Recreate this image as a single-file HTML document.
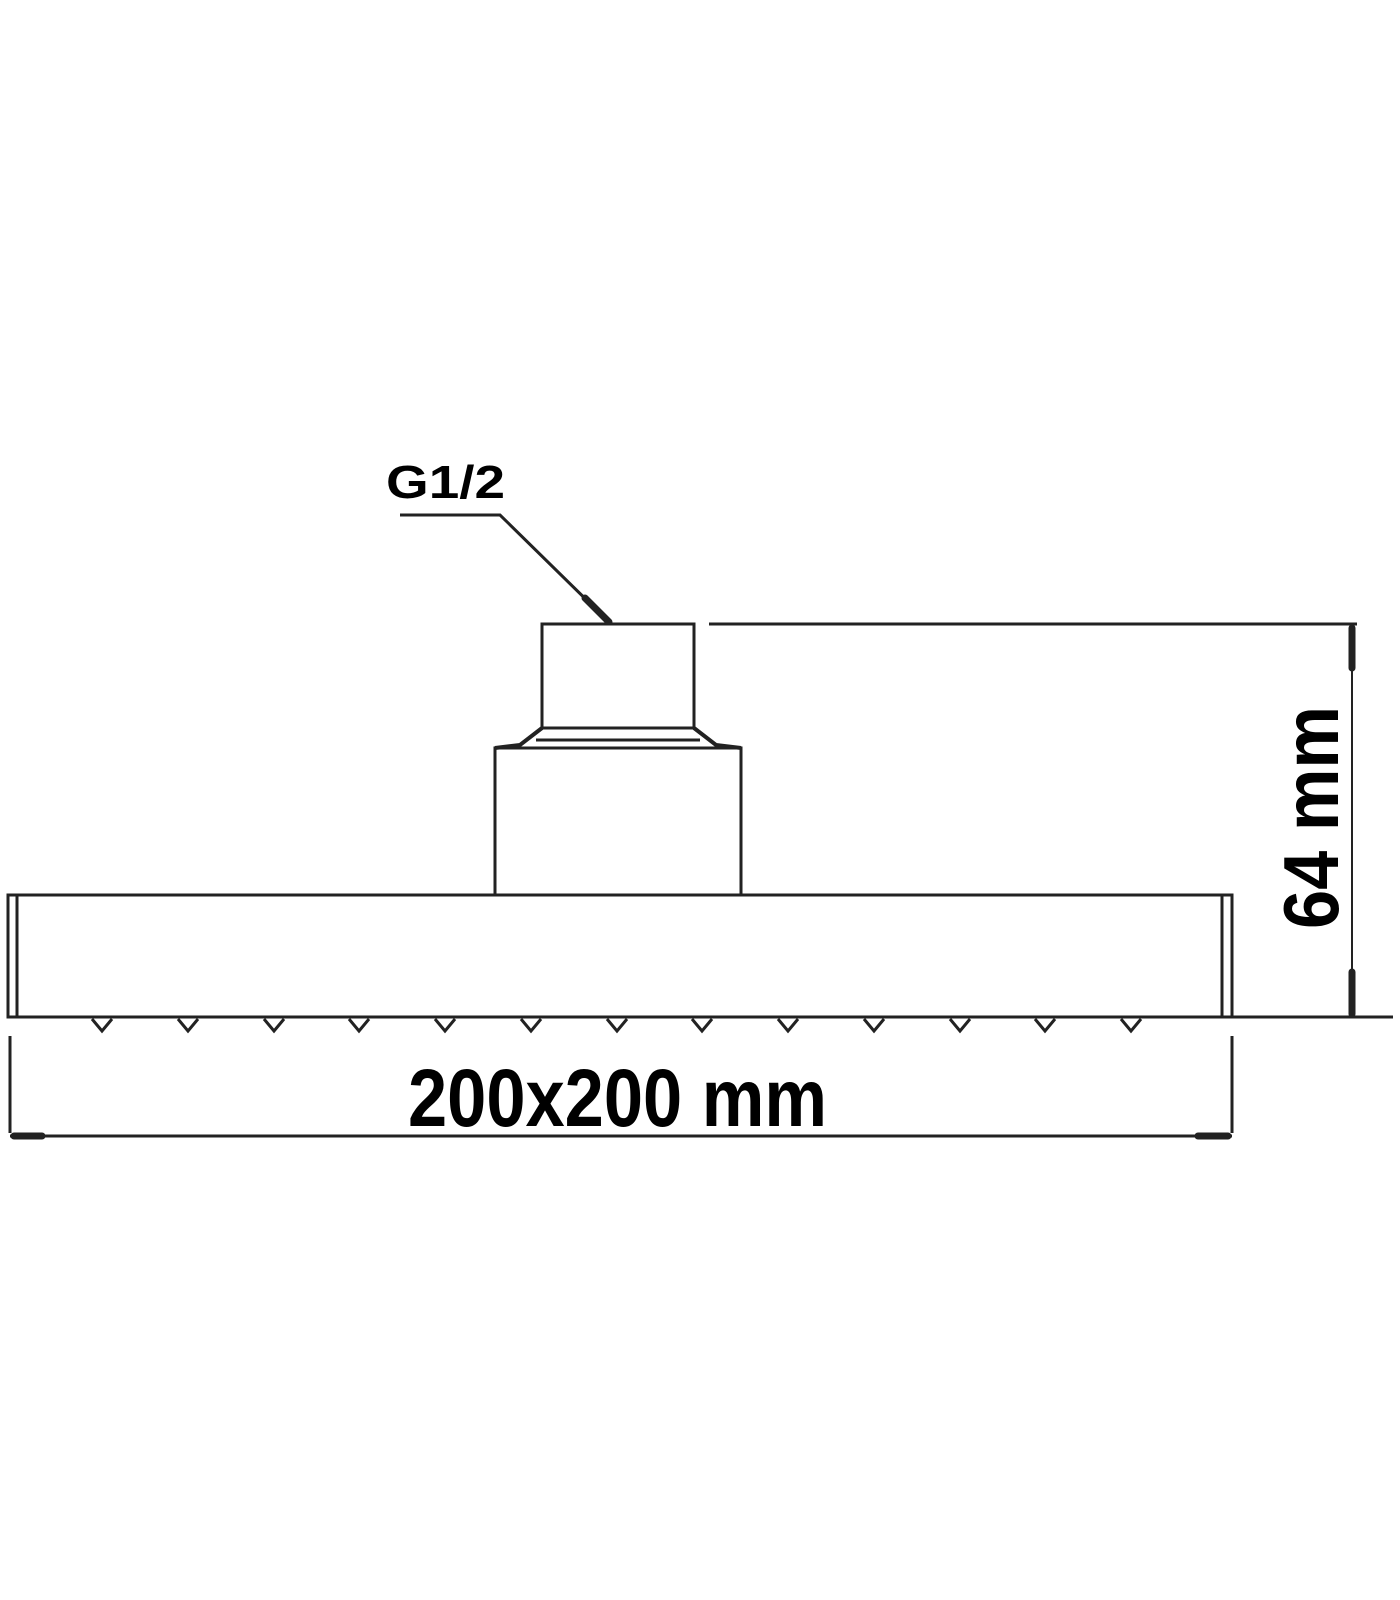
<!DOCTYPE html>
<html><head><meta charset="utf-8"><style>
html,body{margin:0;padding:0;background:#fff;}
svg{display:block;}
text{font-family:"Liberation Sans",sans-serif;font-weight:bold;fill:#000;}
</style></head><body>
<svg width="1400" height="1600" viewBox="0 0 1400 1600" xmlns="http://www.w3.org/2000/svg">
<g stroke="#222" fill="none" stroke-width="3">
  <!-- leader -->
  <path d="M400 515 L500 515 L609 622"/>
  <path d="M585 598 L609 622" stroke-width="7" stroke-linecap="round"/>
  <!-- small rect -->
  <path d="M542 728 L542 624 L694 624 L694 728"/>
  <line x1="542" y1="728" x2="694" y2="728"/>
  <line x1="536" y1="740" x2="700" y2="740"/>
  <path d="M542 728 L520 745 L495 748 M694 728 L716 745 L741 748" stroke-width="4"/>
  <!-- big rect -->
  <path d="M495 895 L495 748 L741 748 L741 895"/>
  <!-- plate -->
  <rect x="8" y="895" width="1224" height="122"/>
  <line x1="17" y1="895" x2="17" y2="1017"/>
  <line x1="1222" y1="895" x2="1222" y2="1017"/>
  <line x1="1232" y1="1017" x2="1393" y2="1017"/>
  <!-- top dimension -->
  <line x1="709" y1="624" x2="1357" y2="624"/>
  <line x1="1352" y1="624" x2="1352" y2="1017" stroke-width="2"/>
  <path d="M1352 628 L1352 668 M1352 972 L1352 1014" stroke-width="7" stroke-linecap="round"/>
  <!-- width dimension -->
  <line x1="10" y1="1036" x2="10" y2="1133"/>
  <line x1="1232" y1="1036" x2="1232" y2="1133"/>
  <line x1="10" y1="1136" x2="1232" y2="1136"/>
  <path d="M14 1136 L42 1136 M1198 1136 L1228 1136" stroke-width="7" stroke-linecap="round"/>
</g>
<g stroke="#222" fill="#fff" stroke-width="3">
  <path d="M92 1019 L102 1031 L112 1019"/><path d="M178 1019 L188 1031 L198 1019"/>
  <path d="M264 1019 L274 1031 L284 1019"/><path d="M349 1019 L359 1031 L369 1019"/>
  <path d="M435 1019 L445 1031 L455 1019"/><path d="M521 1019 L531 1031 L541 1019"/>
  <path d="M607 1019 L617 1031 L627 1019"/><path d="M692 1019 L702 1031 L712 1019"/>
  <path d="M778 1019 L788 1031 L798 1019"/><path d="M864 1019 L874 1031 L884 1019"/>
  <path d="M950 1019 L960 1031 L970 1019"/><path d="M1035 1019 L1045 1031 L1055 1019"/>
  <path d="M1121 1019 L1131 1031 L1141 1019"/>
</g>
<text x="386" y="498" font-size="46" textLength="119" lengthAdjust="spacingAndGlyphs">G1/2</text>
<text x="408" y="1126" font-size="82" textLength="419" lengthAdjust="spacingAndGlyphs">200x200 mm</text>
<text transform="translate(1338 929) rotate(-90)" font-size="78" textLength="223" lengthAdjust="spacingAndGlyphs">64 mm</text>
</svg>
</body></html>
